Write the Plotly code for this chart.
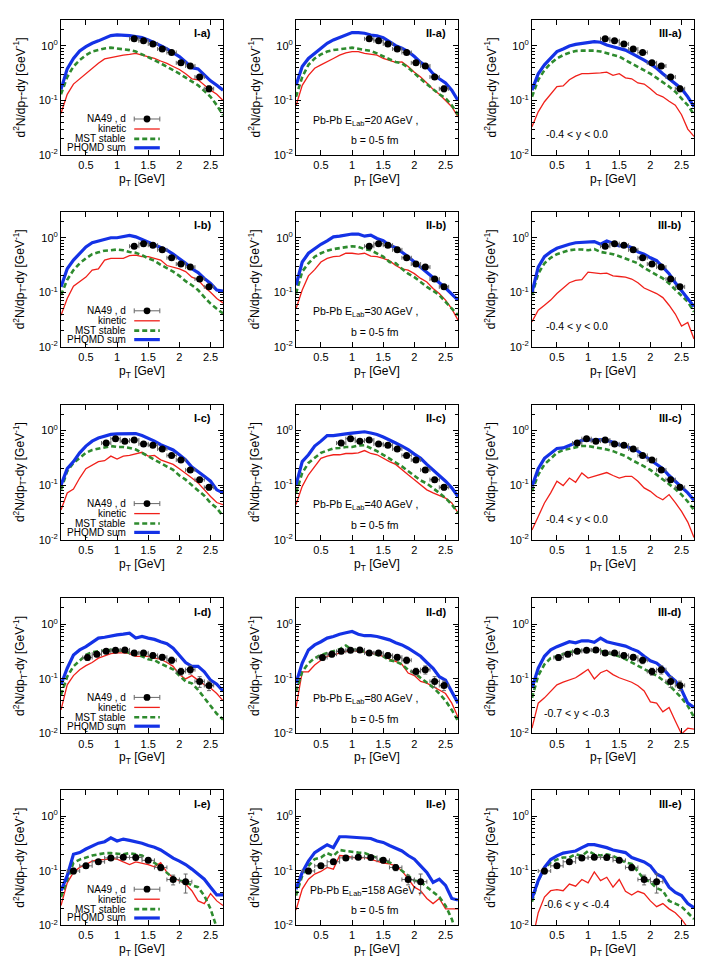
import plotly.graph_objects as go

# transverse momentum grid of the model curves (GeV)
PT = [0.1, 0.2, 0.3, 0.4, 0.5, 0.6, 0.7, 0.8, 0.9, 1.0, 1.1, 1.2, 1.3, 1.4,
      1.5, 1.6, 1.7, 1.8, 1.9, 2.0, 2.1, 2.2, 2.3, 2.4, 2.5, 2.6, 2.7]

# ---- row a (20 AGeV) ----
kin_1a = [0.058, 0.13, 0.2, 0.25, 0.31, 0.39, 0.48, 0.58, 0.61, 0.66, 0.68, 0.70, 0.73, 0.68,
          0.64, 0.59, 0.53, 0.48, 0.42, 0.37, 0.31, 0.25, 0.24, 0.19, 0.155, 0.13, 0.10]
mst_1a = [0.13, 0.27, 0.42, 0.55, 0.68, 0.79, 0.84, 0.90, 0.93, 0.90, 0.88, 0.84, 0.79, 0.70,
          0.64, 0.55, 0.48, 0.42, 0.36, 0.31, 0.26, 0.22, 0.19, 0.15, 0.117, 0.082, 0.054]
sum_1a = [0.16, 0.38, 0.59, 0.81, 0.97, 1.12, 1.24, 1.38, 1.55, 1.59, 1.59, 1.55, 1.48, 1.42,
          1.29, 1.15, 1.01, 0.88, 0.75, 0.64, 0.51, 0.40, 0.38, 0.29, 0.23, 0.19, 0.155]
kin_2a = [0.08, 0.19, 0.29, 0.39, 0.45, 0.51, 0.59, 0.68, 0.75, 0.79, 0.79, 0.73, 0.70, 0.68,
          0.59, 0.55, 0.50, 0.51, 0.42, 0.33, 0.27, 0.21, 0.16, 0.13, 0.10, 0.077, 0.05]
mst_2a = [0.117, 0.27, 0.45, 0.59, 0.70, 0.79, 0.84, 0.88, 0.90, 0.93, 0.88, 0.84, 0.81, 0.73,
          0.64, 0.57, 0.51, 0.48, 0.40, 0.31, 0.25, 0.20, 0.16, 0.13, 0.11, 0.082, 0.055]
sum_2a = [0.19, 0.42, 0.59, 0.73, 0.93, 1.12, 1.29, 1.42, 1.59, 1.76, 1.76, 1.71, 1.59, 1.53,
          1.42, 1.20, 1.01, 0.91, 0.79, 0.64, 0.50, 0.42, 0.31, 0.25, 0.21, 0.155, 0.10]
kin_3a = [0.033, 0.062, 0.095, 0.13, 0.18, 0.185, 0.24, 0.28, 0.31, 0.31, 0.31, 0.32, 0.33, 0.29,
          0.31, 0.26, 0.25, 0.21, 0.20, 0.165, 0.13, 0.117, 0.097, 0.082, 0.055, 0.03, 0.022]
mst_3a = [0.117, 0.24, 0.36, 0.48, 0.59, 0.68, 0.75, 0.81, 0.82, 0.83, 0.82, 0.79, 0.73, 0.68,
          0.64, 0.55, 0.48, 0.42, 0.36, 0.31, 0.26, 0.22, 0.18, 0.145, 0.11, 0.082, 0.055]
sum_3a = [0.155, 0.31, 0.45, 0.61, 0.79, 0.88, 1.0, 1.07, 1.12, 1.17, 1.2, 1.17, 1.04, 0.97,
          0.91, 0.84, 0.73, 0.64, 0.55, 0.47, 0.39, 0.31, 0.25, 0.20, 0.165, 0.117, 0.077]

# ---- row b (30 AGeV) ----
kin_1b = [0.038, 0.077, 0.13, 0.16, 0.19, 0.255, 0.27, 0.39, 0.42, 0.42, 0.42, 0.47, 0.48, 0.45,
          0.45, 0.42, 0.39, 0.31, 0.29, 0.27, 0.24, 0.19, 0.17, 0.126, 0.10, 0.077, 0.064]
mst_1b = [0.089, 0.17, 0.255, 0.34, 0.42, 0.50, 0.54, 0.58, 0.59, 0.61, 0.59, 0.55, 0.53, 0.48,
          0.42, 0.38, 0.32, 0.28, 0.24, 0.20, 0.16, 0.135, 0.11, 0.082, 0.062, 0.05, 0.041]
sum_1b = [0.126, 0.27, 0.39, 0.52, 0.68, 0.81, 0.87, 0.95, 1.0, 1.0, 1.04, 1.1, 1.04, 0.93,
          0.82, 0.76, 0.68, 0.59, 0.50, 0.42, 0.34, 0.27, 0.23, 0.18, 0.145, 0.11, 0.105]
kin_2b = [0.05, 0.11, 0.20, 0.26, 0.36, 0.42, 0.45, 0.46, 0.52, 0.52, 0.50, 0.52, 0.46, 0.45,
          0.42, 0.38, 0.31, 0.27, 0.255, 0.22, 0.18, 0.155, 0.118, 0.095, 0.072, 0.05, 0.031]
mst_2b = [0.095, 0.24, 0.34, 0.45, 0.52, 0.58, 0.62, 0.64, 0.66, 0.70, 0.68, 0.62, 0.59, 0.52,
          0.45, 0.36, 0.34, 0.27, 0.22, 0.19, 0.155, 0.126, 0.107, 0.089, 0.067, 0.05, 0.038]
sum_2b = [0.135, 0.36, 0.52, 0.64, 0.76, 0.88, 1.04, 1.07, 1.12, 1.17, 1.17, 1.07, 1.12, 0.97,
          0.88, 0.73, 0.66, 0.55, 0.45, 0.36, 0.29, 0.24, 0.19, 0.15, 0.12, 0.095, 0.072]
kin_3b = [0.029, 0.047, 0.058, 0.072, 0.095, 0.12, 0.15, 0.165, 0.17, 0.235, 0.23, 0.22, 0.225, 0.20,
          0.195, 0.19, 0.175, 0.15, 0.12, 0.105, 0.095, 0.08, 0.058, 0.04, 0.024, 0.028, 0.014]
mst_3b = [0.089, 0.22, 0.34, 0.43, 0.50, 0.55, 0.59, 0.61, 0.61, 0.59, 0.62, 0.55, 0.53, 0.50,
          0.46, 0.42, 0.38, 0.34, 0.28, 0.24, 0.21, 0.18, 0.145, 0.113, 0.089, 0.067, 0.044]
sum_3b = [0.10, 0.29, 0.45, 0.55, 0.64, 0.71, 0.76, 0.81, 0.82, 0.85, 0.85, 0.76, 0.87, 0.79,
          0.71, 0.73, 0.66, 0.55, 0.50, 0.43, 0.38, 0.29, 0.22, 0.15, 0.107, 0.08, 0.055]

# ---- row c (40 AGeV) ----
kin_1c = [0.035, 0.072, 0.085, 0.135, 0.20, 0.23, 0.27, 0.28, 0.34, 0.30, 0.34, 0.35, 0.37, 0.40,
          0.34, 0.35, 0.29, 0.26, 0.24, 0.20, 0.167, 0.135, 0.11, 0.082, 0.062, 0.048, 0.044]
mst_1c = [0.083, 0.18, 0.255, 0.31, 0.39, 0.44, 0.47, 0.50, 0.52, 0.50, 0.50, 0.48, 0.45, 0.39,
          0.34, 0.29, 0.255, 0.22, 0.19, 0.15, 0.126, 0.10, 0.08, 0.064, 0.047, 0.038, 0.027]
sum_1c = [0.10, 0.20, 0.27, 0.39, 0.52, 0.64, 0.73, 0.79, 0.85, 0.87, 0.87, 0.87, 0.88, 0.81,
          0.73, 0.64, 0.55, 0.50, 0.44, 0.36, 0.29, 0.215, 0.18, 0.145, 0.118, 0.082, 0.072]
kin_2c = [0.044, 0.095, 0.155, 0.22, 0.31, 0.34, 0.36, 0.36, 0.38, 0.38, 0.39, 0.43, 0.38, 0.36,
          0.31, 0.27, 0.24, 0.19, 0.155, 0.126, 0.10, 0.082, 0.072, 0.065, 0.058, 0.047, 0.031]
mst_2c = [0.072, 0.167, 0.255, 0.31, 0.39, 0.43, 0.47, 0.48, 0.50, 0.50, 0.53, 0.54, 0.48, 0.42,
          0.36, 0.31, 0.26, 0.22, 0.18, 0.145, 0.122, 0.107, 0.089, 0.072, 0.058, 0.044, 0.031]
sum_2c = [0.10, 0.27, 0.36, 0.52, 0.64, 0.81, 0.81, 0.85, 0.87, 0.90, 0.93, 0.95, 0.90, 0.85,
          0.76, 0.66, 0.59, 0.52, 0.45, 0.37, 0.31, 0.24, 0.19, 0.145, 0.118, 0.089, 0.062]
kin_3c = [0.015, 0.027, 0.047, 0.072, 0.118, 0.098, 0.135, 0.113, 0.167, 0.135, 0.145, 0.16, 0.17, 0.15,
          0.135, 0.145, 0.145, 0.118, 0.089, 0.077, 0.062, 0.054, 0.067, 0.048, 0.033, 0.021, 0.011]
mst_3c = [0.077, 0.155, 0.24, 0.31, 0.39, 0.44, 0.47, 0.50, 0.52, 0.52, 0.50, 0.48, 0.45, 0.42,
          0.38, 0.34, 0.29, 0.255, 0.22, 0.19, 0.155, 0.13, 0.107, 0.085, 0.067, 0.05, 0.035]
sum_3c = [0.095, 0.20, 0.31, 0.39, 0.47, 0.48, 0.53, 0.59, 0.66, 0.68, 0.66, 0.68, 0.66, 0.61,
          0.55, 0.52, 0.47, 0.42, 0.35, 0.29, 0.24, 0.20, 0.15, 0.118, 0.095, 0.072, 0.053]

# ---- row d (80 AGeV) ----
kin_1d = [0.027, 0.078, 0.115, 0.147, 0.175, 0.20, 0.24, 0.26, 0.29, 0.30, 0.30, 0.29, 0.26, 0.26,
          0.26, 0.24, 0.23, 0.20, 0.17, 0.12, 0.10, 0.115, 0.095, 0.078, 0.068, 0.054, 0.04]
mst_1d = [0.051, 0.11, 0.17, 0.22, 0.275, 0.31, 0.32, 0.33, 0.34, 0.33, 0.33, 0.30, 0.275, 0.26,
          0.23, 0.22, 0.19, 0.17, 0.15, 0.115, 0.09, 0.083, 0.063, 0.045, 0.032, 0.023, 0.018]
sum_1d = [0.078, 0.157, 0.275, 0.34, 0.39, 0.47, 0.56, 0.58, 0.62, 0.64, 0.66, 0.69, 0.56, 0.60,
          0.56, 0.53, 0.48, 0.44, 0.365, 0.275, 0.20, 0.17, 0.17, 0.135, 0.095, 0.08, 0.06]
kin_2d = [0.03, 0.135, 0.135, 0.18, 0.22, 0.26, 0.275, 0.30, 0.32, 0.33, 0.32, 0.31, 0.30, 0.28,
          0.26, 0.23, 0.21, 0.185, 0.128, 0.115, 0.09, 0.084, 0.072, 0.063, 0.054, 0.036, 0.02]
mst_2d = [0.059, 0.135, 0.195, 0.24, 0.275, 0.30, 0.32, 0.35, 0.41, 0.34, 0.34, 0.32, 0.30, 0.28,
          0.26, 0.22, 0.21, 0.185, 0.147, 0.128, 0.105, 0.084, 0.07, 0.054, 0.04, 0.027, 0.017]
sum_2d = [0.084, 0.195, 0.34, 0.42, 0.48, 0.56, 0.60, 0.66, 0.70, 0.74, 0.66, 0.62, 0.62, 0.60,
          0.56, 0.52, 0.46, 0.42, 0.365, 0.31, 0.26, 0.20, 0.157, 0.11, 0.095, 0.058, 0.036]
kin_3d = [0.0125, 0.036, 0.045, 0.059, 0.078, 0.087, 0.095, 0.105, 0.125, 0.15, 0.10, 0.13, 0.145, 0.12,
          0.105, 0.095, 0.087, 0.075, 0.06, 0.038, 0.036, 0.025, 0.03, 0.017, 0.0098, 0.0125, 0.012]
mst_3d = [0.045, 0.115, 0.185, 0.24, 0.26, 0.28, 0.31, 0.32, 0.33, 0.34, 0.32, 0.33, 0.30, 0.275,
          0.26, 0.23, 0.20, 0.175, 0.147, 0.128, 0.115, 0.095, 0.078, 0.059, 0.045, 0.032, 0.02]
sum_3d = [0.068, 0.157, 0.26, 0.34, 0.39, 0.44, 0.48, 0.46, 0.50, 0.50, 0.47, 0.56, 0.48, 0.45,
          0.42, 0.40, 0.355, 0.32, 0.26, 0.215, 0.195, 0.157, 0.115, 0.092, 0.063, 0.036, 0.03]

# ---- row e (158 AGeV) ----
kin_1e = [0.023, 0.06, 0.093, 0.115, 0.13, 0.15, 0.16, 0.16, 0.167, 0.163, 0.145, 0.13, 0.145, 0.138,
          0.13, 0.118, 0.14, 0.093, 0.075, 0.066, 0.057, 0.043, 0.028, 0.025, 0.038, 0.028, 0.023]
mst_1e = [0.033, 0.07, 0.14, 0.16, 0.175, 0.19, 0.20, 0.21, 0.21, 0.205, 0.20, 0.21, 0.20, 0.19,
          0.163, 0.14, 0.115, 0.093, 0.073, 0.066, 0.062, 0.054, 0.05, 0.035, 0.02, 0.009, 0.004]
sum_1e = [0.043, 0.081, 0.20, 0.215, 0.25, 0.28, 0.32, 0.34, 0.40, 0.35, 0.38, 0.36, 0.34, 0.32,
          0.29, 0.27, 0.24, 0.20, 0.17, 0.15, 0.13, 0.107, 0.087, 0.07, 0.05, 0.036, 0.036]
kin_2e = [0.019, 0.046, 0.07, 0.087, 0.097, 0.115, 0.107, 0.19, 0.187, 0.175, 0.167, 0.175, 0.163, 0.15,
          0.138, 0.133, 0.123, 0.10, 0.07, 0.05, 0.043, 0.031, 0.025, 0.031, 0.02, 0.02, 0.02]
mst_2e = [0.035, 0.081, 0.123, 0.163, 0.175, 0.21, 0.187, 0.24, 0.23, 0.22, 0.215, 0.21, 0.19, 0.175,
          0.16, 0.142, 0.123, 0.10, 0.081, 0.066, 0.062, 0.05, 0.04, 0.033, 0.023, 0.013, 0.006]
sum_2e = [0.046, 0.093, 0.15, 0.215, 0.255, 0.30, 0.265, 0.42, 0.42, 0.415, 0.40, 0.40, 0.39, 0.35,
          0.33, 0.29, 0.255, 0.23, 0.19, 0.163, 0.123, 0.093, 0.061, 0.07, 0.054, 0.031, 0.029]
kin_3e = [0.005, 0.017, 0.033, 0.043, 0.045, 0.043, 0.057, 0.052, 0.069, 0.06, 0.095, 0.066, 0.076, 0.05,
          0.069, 0.042, 0.036, 0.042, 0.038, 0.028, 0.022, 0.025, 0.02, 0.017, 0.013, 0.009, 0.005]
mst_3e = [0.027, 0.066, 0.11, 0.142, 0.16, 0.175, 0.175, 0.20, 0.187, 0.23, 0.20, 0.19, 0.20, 0.187,
          0.163, 0.142, 0.133, 0.096, 0.07, 0.062, 0.048, 0.043, 0.028, 0.025, 0.022, 0.017, 0.013]
sum_3e = [0.031, 0.066, 0.115, 0.16, 0.187, 0.21, 0.22, 0.23, 0.265, 0.30, 0.30, 0.285, 0.265, 0.24,
          0.225, 0.215, 0.175, 0.16, 0.145, 0.123, 0.087, 0.076, 0.05, 0.04, 0.035, 0.025, 0.021]

# ---- NA49 deuteron data ----
na49_x_ab = [1.275, 1.425, 1.575, 1.725, 1.875, 2.025, 2.175, 2.325, 2.475]
na49_y_a = [1.35, 1.24, 1.09, 0.88, 0.76, 0.49, 0.43, 0.27, 0.164]
na49_ey_a = [0.08, 0.07, 0.06, 0.05, 0.05, 0.035, 0.03, 0.025, 0.02]
na49_y_b = [0.70, 0.78, 0.73, 0.60, 0.43, 0.33, 0.29, 0.175, 0.126]
na49_ey_b = [0.05, 0.05, 0.05, 0.04, 0.03, 0.025, 0.02, 0.015, 0.012]
na49_x_c = [0.825, 0.975, 1.125, 1.275, 1.425, 1.575, 1.725, 1.875, 2.025, 2.175, 2.325, 2.475]
na49_y_c = [0.59, 0.71, 0.64, 0.67, 0.57, 0.54, 0.46, 0.35, 0.29, 0.19, 0.126, 0.091]
na49_ey_c = [0.06, 0.06, 0.05, 0.05, 0.05, 0.04, 0.04, 0.03, 0.025, 0.018, 0.013, 0.01]
na49_x_d = [0.525, 0.675, 0.825, 0.975, 1.125, 1.275, 1.425, 1.575, 1.725, 1.875, 2.025, 2.175, 2.325, 2.475]
na49_y_d = [0.247, 0.284, 0.32, 0.336, 0.34, 0.30, 0.30, 0.27, 0.25, 0.22, 0.137, 0.148, 0.09, 0.076]
na49_ey_d = [0.03, 0.03, 0.03, 0.03, 0.03, 0.03, 0.03, 0.03, 0.03, 0.03, 0.02, 0.025, 0.02, 0.015]
na49_x_e = [0.3, 0.5, 0.7, 0.9, 1.1, 1.3, 1.5, 1.7, 1.9, 2.1]
na49_y_e = [0.099, 0.123, 0.146, 0.172, 0.176, 0.175, 0.155, 0.115, 0.069, 0.063]
na49_ey_e = [0.012, 0.012, 0.014, 0.015, 0.016, 0.016, 0.015, 0.015, 0.014, 0.024]
na49_ex = [0.075, 0.075, 0.075, 0.075, 0.1]

ROW_TAGS = ["a", "b", "c", "d", "e"]
ENERGIES = ["20", "30", "40", "80", "158"]
RAPIDITY = ["-0.4 < y < 0.0", "-0.4 < y < 0.0", "-0.4 < y < 0.0",
            "-0.7 < y < -0.3", "-0.6 < y < -0.4"]
COLS = ["I", "II", "III"]
LEGEND_TEXT = ["NA49 , d", "kinetic", "MST stable", "PHQMD sum"]

MODEL = [
    [(kin_1a, mst_1a, sum_1a), (kin_2a, mst_2a, sum_2a), (kin_3a, mst_3a, sum_3a)],
    [(kin_1b, mst_1b, sum_1b), (kin_2b, mst_2b, sum_2b), (kin_3b, mst_3b, sum_3b)],
    [(kin_1c, mst_1c, sum_1c), (kin_2c, mst_2c, sum_2c), (kin_3c, mst_3c, sum_3c)],
    [(kin_1d, mst_1d, sum_1d), (kin_2d, mst_2d, sum_2d), (kin_3d, mst_3d, sum_3d)],
    [(kin_1e, mst_1e, sum_1e), (kin_2e, mst_2e, sum_2e), (kin_3e, mst_3e, sum_3e)],
]
DATA = [
    (na49_x_ab, na49_y_a, na49_ey_a),
    (na49_x_ab, na49_y_b, na49_ey_b),
    (na49_x_c, na49_y_c, na49_ey_c),
    (na49_x_d, na49_y_d, na49_ey_d),
    (na49_x_e, na49_y_e, na49_ey_e),
]

COR_KIN = "#f0201a"
COR_MST = "#2e8b2e"
COR_SUM = "#1432e6"
COR_ERR = "#666666"
FONTE = "Liberation Sans, Arial, sans-serif"

LINHA_KIN = dict(color=COR_KIN, width=1.3)
LINHA_MST = dict(color=COR_MST, width=2.6, dash="5px,3px")
LINHA_SUM = dict(color=COR_SUM, width=3.2)

W, H = 706, 971
COL_LEFT = [53, 288, 524]
PANEL_W = 162
ROW_TOP = [12, 205, 399, 594, 787]
PANEL_H = 136

MINOR_Y = [0.02, 0.03, 0.04, 0.05, 0.06, 0.07, 0.08, 0.09,
           0.2, 0.3, 0.4, 0.5, 0.6, 0.7, 0.8, 0.9, 2, 3]


def fonte(size):
    return dict(family=FONTE, size=size, color="black")


fig = go.Figure()
layout = {}
anns = []
shapes = []

for r in range(5):
    for c in range(3):
        k = r * 3 + c
        sfx = "" if k == 0 else str(k + 1)
        xa, ya = "x" + sfx, "y" + sfx
        kin, mst, tot = MODEL[r][c]
        dx, dy, dey = DATA[r]

        fig.add_trace(go.Scatter(x=PT, y=kin, mode="lines", xaxis=xa, yaxis=ya,
                                 line=LINHA_KIN, showlegend=False))
        fig.add_trace(go.Scatter(x=PT, y=mst, mode="lines", xaxis=xa, yaxis=ya,
                                 line=LINHA_MST, showlegend=False))
        fig.add_trace(go.Scatter(x=PT, y=tot, mode="lines", xaxis=xa, yaxis=ya,
                                 line=LINHA_SUM, showlegend=False))
        fig.add_trace(go.Scatter(
            x=dx, y=dy, mode="markers", xaxis=xa, yaxis=ya, showlegend=False,
            marker=dict(color="black", size=7),
            error_x=dict(type="constant", value=na49_ex[r], color=COR_ERR, thickness=1, width=2),
            error_y=dict(type="data", array=dey, color=COR_ERR, thickness=1, width=2),
        ))

        x0 = COL_LEFT[c] / W
        x1 = (COL_LEFT[c] + PANEL_W) / W
        y1 = 1 - ROW_TOP[r] / H
        y0 = 1 - (ROW_TOP[r] + PANEL_H) / H
        eixo = dict(showline=True, linecolor="black", linewidth=1, mirror="allticks",
                    ticks="inside", ticklen=5, tickcolor="black", showgrid=False, zeroline=False,
                    tickfont=fonte(11))
        layout["xaxis" + sfx] = dict(eixo, domain=[x0, x1], anchor=ya, range=[0.1, 2.7],
                                     tickmode="array", tickvals=[0.5, 1, 1.5, 2, 2.5],
                                     ticktext=["0.5", "1", "1.5", "2", "2.5"])
        layout["yaxis" + sfx] = dict(eixo, domain=[y0, y1], anchor=xa, type="log",
                                     range=[-2, 0.477], tickmode="array",
                                     tickvals=[0.01, 0.1, 1],
                                     ticktext=["10<sup>-2</sup>", "10<sup>-1</sup>", "10<sup>0</sup>"],
                                     minor=dict(ticks="inside", ticklen=3, tickcolor="black",
                                                tickvals=MINOR_Y, showgrid=False))

        dom_x, dom_y = xa + " domain", ya + " domain"
        anns.append(dict(text=f"<b>{COLS[c]}-{ROW_TAGS[r]})</b>", xref=dom_x, yref=dom_y,
                         x=0.94, y=0.9, xanchor="right", yanchor="middle", showarrow=False,
                         font=fonte(11)))
        anns.append(dict(text="p<sub>T</sub> [GeV]", xref=dom_x, yref="paper",
                         x=0.5, y=1 - (ROW_TOP[r] + PANEL_H + 25) / H, xanchor="center",
                         yanchor="middle", showarrow=False, font=fonte(12)))
        anns.append(dict(text="d<sup>2</sup>N/dp<sub>T</sub>-dy [GeV<sup>-1</sup>]",
                         xref="paper", yref=dom_y, x=(COL_LEFT[c] - 41) / W, y=0.5,
                         textangle=-90, xanchor="center", yanchor="middle", showarrow=False,
                         font=fonte(12)))

        if c == 1:
            anns.append(dict(text=f"Pb-Pb E<sub>Lab</sub>={ENERGIES[r]} AGeV ,", xref=dom_x,
                             yref=dom_y, x=0.43, y=0.255, xanchor="center", yanchor="middle",
                             showarrow=False, font=fonte(10.5)))
            anns.append(dict(text="b = 0-5 fm", xref=dom_x, yref=dom_y, x=0.49, y=0.11,
                             xanchor="center", yanchor="middle", showarrow=False,
                             font=fonte(10.5)))
        if c == 2:
            anns.append(dict(text=RAPIDITY[r], xref=dom_x, yref=dom_y, x=0.28, y=0.155,
                             xanchor="center", yanchor="middle", showarrow=False,
                             font=fonte(10.5)))
        if c == 0:
            # gnuplot style key: text on the left, sample on the right
            ys = [0.267, 0.193, 0.12, 0.054]
            for txt, yy in zip(LEGEND_TEXT, ys):
                anns.append(dict(text=txt, xref=dom_x, yref=dom_y, x=0.414, y=yy,
                                 xanchor="right", yanchor="middle", showarrow=False,
                                 font=fonte(10)))
            sx0, sx1 = 0.452, 0.61
            estilos = [None, LINHA_KIN, LINHA_MST, LINHA_SUM]
            for est, yy in zip(estilos, ys):
                if est is None:
                    cinza = dict(color=COR_ERR, width=1)
                    shapes.append(dict(type="line", xref=dom_x, yref=dom_y, x0=sx0, x1=sx1,
                                       y0=yy, y1=yy, line=cinza))
                    for xe in (sx0, sx1):
                        shapes.append(dict(type="line", xref=dom_x, yref=dom_y, x0=xe, x1=xe,
                                           y0=yy - 0.018, y1=yy + 0.018, line=cinza))
                    xm = (sx0 + sx1) / 2
                    shapes.append(dict(type="circle", xref=dom_x, yref=dom_y,
                                       x0=xm - 0.021, x1=xm + 0.021, y0=yy - 0.025, y1=yy + 0.025,
                                       fillcolor="black", line=dict(color="black", width=0)))
                else:
                    shapes.append(dict(type="line", xref=dom_x, yref=dom_y, x0=sx0, x1=sx1,
                                       y0=yy, y1=yy, line=est))

fig.update_layout(
    **layout,
    annotations=anns,
    shapes=shapes,
    width=W,
    height=H,
    margin=dict(l=0, r=0, t=0, b=0),
    paper_bgcolor="white",
    plot_bgcolor="white",
    showlegend=False,
    font=fonte(11),
)

fig.write_html("out.html")
